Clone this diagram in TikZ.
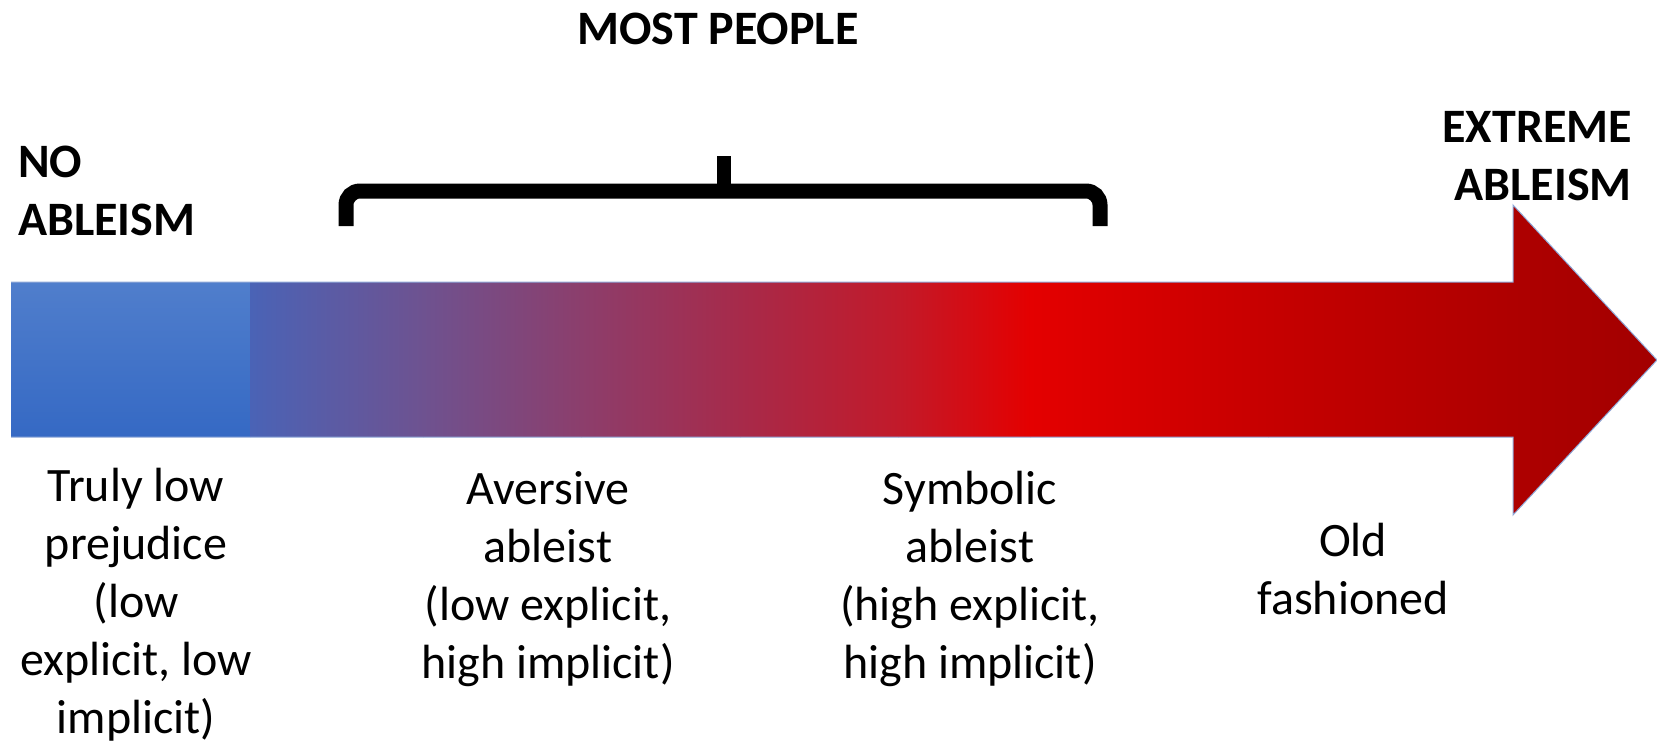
\documentclass[tikz,border=0pt]{standalone}
\usepackage{fontspec}
\setmainfont{Carlito}
\definecolor{bluetop}{HTML}{507ECC}
\definecolor{bluebot}{HTML}{3569C4}
\definecolor{gA}{HTML}{4A63B6}
\definecolor{gB}{HTML}{6E5290}
\definecolor{gC}{HTML}{8C3E6C}
\definecolor{gD}{HTML}{A72A4A}
\definecolor{gE}{HTML}{C21A2A}
\definecolor{gF}{HTML}{E40000}
\definecolor{gG}{HTML}{C60000}
\definecolor{gH}{HTML}{AE0000}
\definecolor{gI}{HTML}{A20000}
\definecolor{edge}{HTML}{8FA8D8}
\tikzset{
  lbl/.style={font=\fontsize{48bp}{58bp}\selectfont, align=center, inner sep=0pt},
  head/.style={font=\fontsize{48bp}{58bp}\selectfont\bfseries, inner sep=0pt},
  bracestroke/.style={line width=15bp, black},
}
\begin{document}
\begin{tikzpicture}[x=1bp,y=-1bp]
\useasboundingbox (0,0) rectangle (1657,744);
% arrow outline points
\coordinate (a1) at (11,282);
\coordinate (a2) at (1513,282);
\coordinate (a3) at (1513,205);
\coordinate (tip) at (1657,360);
\coordinate (a5) at (1513,515);
\coordinate (a6) at (1513,437);
\coordinate (a7) at (11,437);
\begin{scope}
\clip (a1) -- (a2) -- (a3) -- (tip) -- (a5) -- (a6) -- (a7) -- cycle;
\shade[top color=bluetop, bottom color=bluebot] (11,282) rectangle (250.5,437);
\shade[left color=gA, right color=gB] (250,200) rectangle (424,520);
\shade[left color=gB, right color=gC] (423,200) rectangle (582,520);
\shade[left color=gC, right color=gD] (581,200) rectangle (741,520);
\shade[left color=gD, right color=gE] (740,200) rectangle (899,520);
\shade[left color=gE, right color=gF] (898,200) rectangle (1031,520);
\shade[left color=gF, right color=gG] (1030,200) rectangle (1269,520);
\shade[left color=gG, right color=gH] (1268,200) rectangle (1512,520);
\shade[left color=gH, right color=gI] (1511,200) rectangle (1660,520);
\end{scope}
\draw[edge, line width=1bp] (a1) -- (a2) -- (a3) -- (tip) -- (a5) -- (a6) -- (a7);
% brace
\coordinate (bl) at (346,226);
\coordinate (bml) at (346,191);
\coordinate (bmr) at (1100,191);
\coordinate (br) at (1100,226);
\coordinate (bc) at (724,191);
\coordinate (bt) at (724,156);
\draw[bracestroke, rounded corners=14bp] (bl) -- (bml) -- (bmr) -- (br);
\draw[line width=14bp] (bc) -- (bt);
% headings (base anchor = baseline of last line)
\node[head, anchor=base] (most) at (718,45) {MOST PEOPLE};
\node[head, align=left, anchor=base west] (noab) at (18,235) {NO\\ABLEISM};
\node[head, align=right, anchor=base east] (extr) at (1632,200) {EXTREME\\ABLEISM};
% labels
\node[lbl, anchor=base] (truly) at (136,733) {Truly low\\prejudice\\(low\\explicit, low\\implicit)};
\node[lbl, anchor=base] (avers) at (548,678) {Aversive\\ableist\\(low explicit,\\high implicit)};
\node[lbl, anchor=base] (symb) at (970,678) {Symbolic\\ableist\\(high explicit,\\high implicit)};
\node[lbl, anchor=base] (old) at (1353,614) {Old\\fashioned};
\end{tikzpicture}
\end{document}
